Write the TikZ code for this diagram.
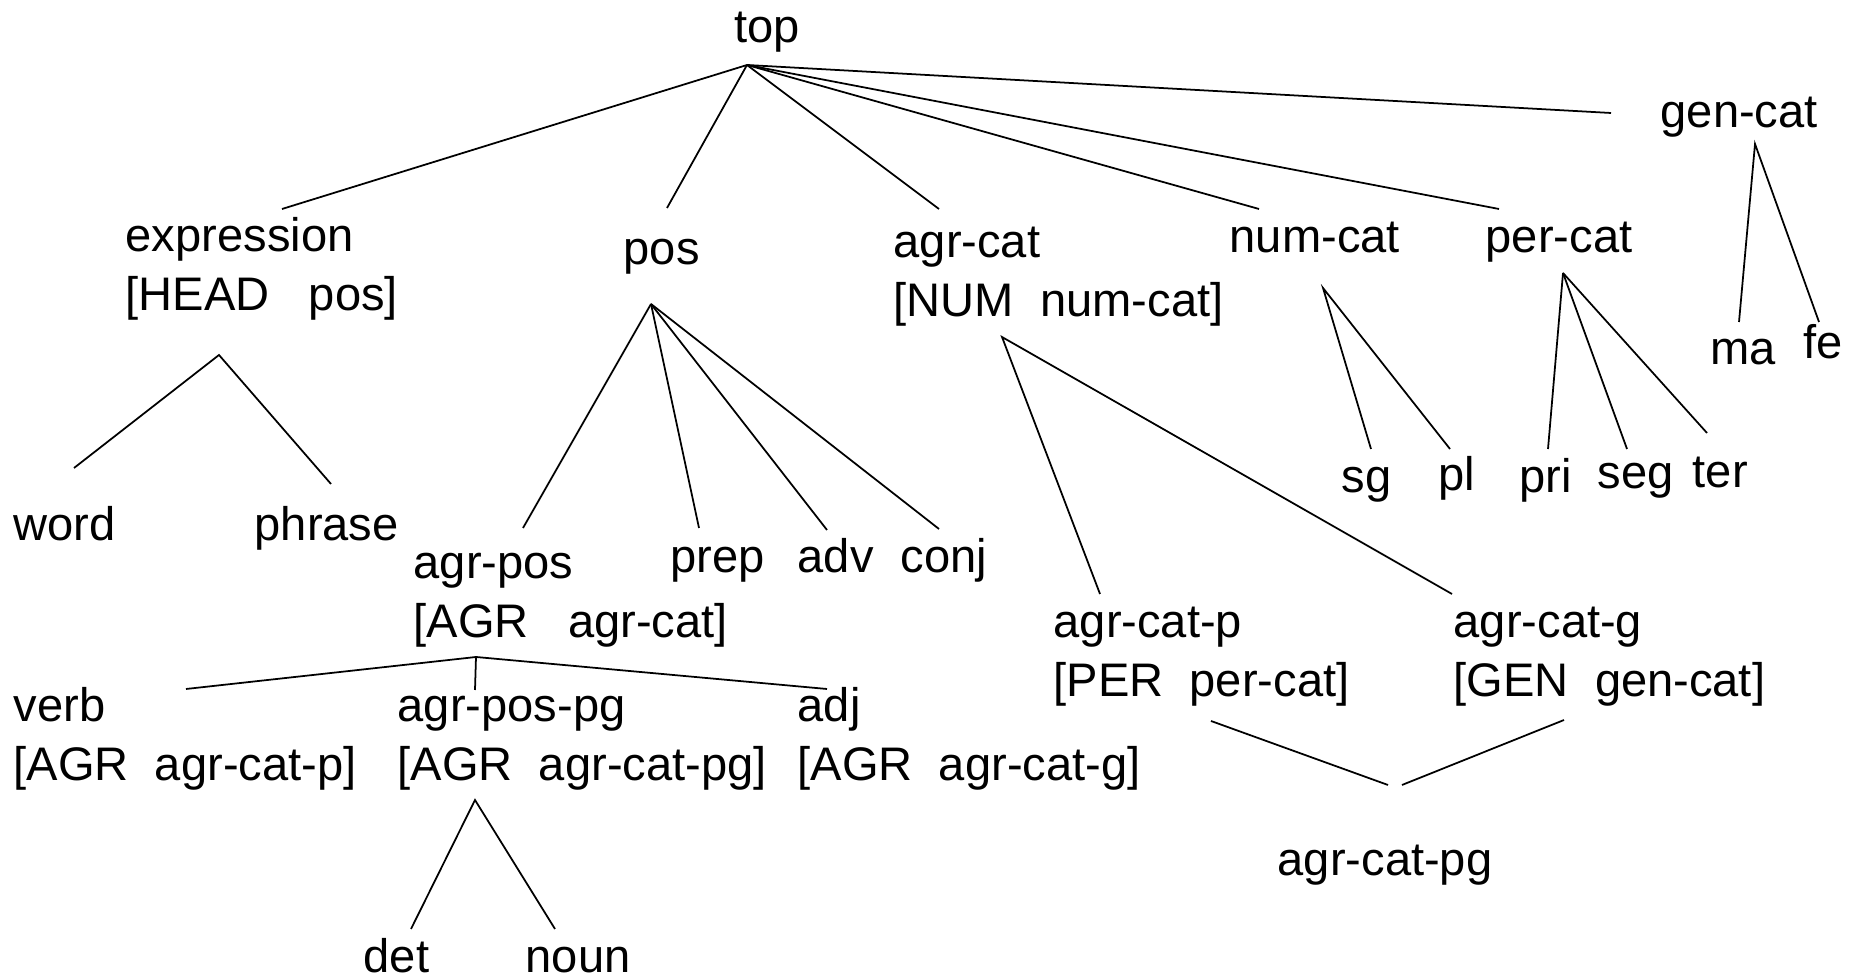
\documentclass[tikz,border=0pt]{standalone}
\usepackage{fontspec}
\setmainfont{Liberation Sans}
\tikzset{
  typ/.style={anchor=base west, inner sep=0pt, align=left, font=\fontsize{13.4}{16.8}\selectfont},
  isa/.style={line width=0.5pt}
}
\begin{document}
\begin{tikzpicture}
        \useasboundingbox (0,0) rectangle (18.56,9.76);
        \node[typ, anchor=base] (Top) at (7.67,9.33) {top};
        \node[typ] (Expr)    at (1.25,6.65) {expression\\{}[HEAD\ \ \ pos]};
        \node[typ] (Pos)     at (6.23,7.11) {pos};
        \node[typ] (AgrCat)  at (8.93,6.59) {agr-cat\\{}[NUM\ \ num-cat]};
        \node[typ] (NumCat)  at (12.29,7.23) {num-cat};
        \node[typ] (PerCat)  at (14.85,7.23) {per-cat};
        \node[typ] (GenCat)  at (16.60,8.48) {gen-cat};
        \node[typ] (Word)    at (0.13,4.35) {word};
        \node[typ] (Phrase)  at (2.54,4.35) {phrase};
        \node[typ] (AgrPos)  at (4.13,3.38) {agr-pos\\{}[AGR\ \ \ agr-cat]};
        \node[typ] (Prep)    at (6.70,4.03) {prep};
        \node[typ] (Adv)     at (7.97,4.03) {adv};
        \node[typ] (Conj)    at (9.00,4.03) {conj};
        \node[typ] (Verb)    at (0.13,1.95) {verb\\{}[AGR\ \ agr-cat-p]};
        \node[typ] (AgrPosPG) at (3.97,1.95) {agr-pos-pg\\{}[AGR\ \ agr-cat-pg]};
        \node[typ] (Adj)     at (7.97,1.95) {adj\\{}[AGR\ \ agr-cat-g]};
        \node[typ, text depth=0pt] (Det)  at (3.63,0.03) {det};
        \node[typ, text depth=0pt] (Noun) at (5.25,0.03) {noun};
        \node[typ] (AgrCatP) at (10.53,2.79) {agr-cat-p\\{}[PER\ \ per-cat]};
        \node[typ] (AgrCatG) at (14.53,2.79) {agr-cat-g\\{}[GEN\ \ gen-cat]};
        \node[typ] (AgrCatPG) at (12.77,1.00) {agr-cat-pg};
        \node[typ] (Sg)      at (13.41,4.83) {sg};
        \node[typ] (Pl)      at (14.38,4.85) {pl};
        \node[typ] (Pri)     at (15.19,4.83) {pri};
        \node[typ] (Seg)     at (15.97,4.87) {seg};
        \node[typ] (Ter)     at (16.92,4.88) {ter};
        \node[typ] (Ma)      at (17.10,6.11) {ma};
        \node[typ] (Fe)      at (18.03,6.17) {fe};
        \coordinate (TopB)      at (7.47,9.11);
        \coordinate (ExprT)     at (2.82,7.67);
        \coordinate (PosT)      at (6.67,7.68);
        \coordinate (AgrCatT)   at (9.39,7.67);
        \coordinate (NumCatT)   at (12.59,7.67);
        \coordinate (PerCatT)   at (14.99,7.67);
        \coordinate (GenCatT)   at (16.11,8.63);
        \coordinate (ExprB)     at (2.19,6.21);
        \coordinate (WordT)     at (0.74,5.08);
        \coordinate (PhraseT)   at (3.31,4.92);
        \coordinate (PosB)      at (6.51,6.72);
        \coordinate (AgrPosT)   at (5.23,4.48);
        \coordinate (PrepT)     at (6.99,4.48);
        \coordinate (AdvT)      at (8.27,4.46);
        \coordinate (ConjT)     at (9.39,4.47);
        \coordinate (AgrCatB)   at (10.02,6.39);
        \coordinate (AgrCatPT)  at (11.00,3.82);
        \coordinate (AgrCatGT)  at (14.52,3.82);
        \coordinate (NumCatB)   at (13.23,6.88);
        \coordinate (SgT)       at (13.71,5.27);
        \coordinate (PlT)       at (14.50,5.27);
        \coordinate (PerCatB)   at (15.63,7.03);
        \coordinate (PriT)      at (15.48,5.27);
        \coordinate (SegT)      at (16.27,5.27);
        \coordinate (TerT)      at (17.07,5.43);
        \coordinate (GenCatB)   at (17.55,8.32);
        \coordinate (MaT)       at (17.39,6.54);
        \coordinate (FeT)       at (18.19,6.54);
        \coordinate (AgrPosB)   at (4.76,3.19);
        \coordinate (VerbT)     at (1.86,2.87);
        \coordinate (AgrPosPGT) at (4.75,2.86);
        \coordinate (AdjT)      at (8.27,2.87);
        \coordinate (AgrPosPGB) at (4.75,1.76);
        \coordinate (DetT)      at (4.11,0.47);
        \coordinate (NounT)     at (5.55,0.47);
        \coordinate (AgrCatPB)  at (12.11,2.55);
        \coordinate (AgrCatGB)  at (15.64,2.56);
        \coordinate (AgrCatPGL) at (13.88,1.91);
        \coordinate (AgrCatPGR) at (14.02,1.91);
        \foreach \c in {ExprT,PosT,AgrCatT,NumCatT,PerCatT,GenCatT}
            \draw[isa] (TopB) -- (\c);
        \draw[isa] (WordT) -- (ExprB) -- (PhraseT);
        \foreach \c in {AgrPosT,PrepT,AdvT,ConjT}
            \draw[isa] (PosB) -- (\c);
        \draw[isa] (AgrCatPT) -- (AgrCatB) -- (AgrCatGT);
        \draw[isa] (SgT) -- (NumCatB) -- (PlT);
        \foreach \c in {PriT,SegT,TerT}
            \draw[isa] (PerCatB) -- (\c);
        \draw[isa] (MaT) -- (GenCatB) -- (FeT);
        \foreach \c in {VerbT,AgrPosPGT,AdjT}
            \draw[isa] (AgrPosB) -- (\c);
        \draw[isa] (DetT) -- (AgrPosPGB) -- (NounT);
        \draw[isa] (AgrCatPB) -- (AgrCatPGL);
        \draw[isa] (AgrCatGB) -- (AgrCatPGR);
    \end{tikzpicture}
\end{document}
